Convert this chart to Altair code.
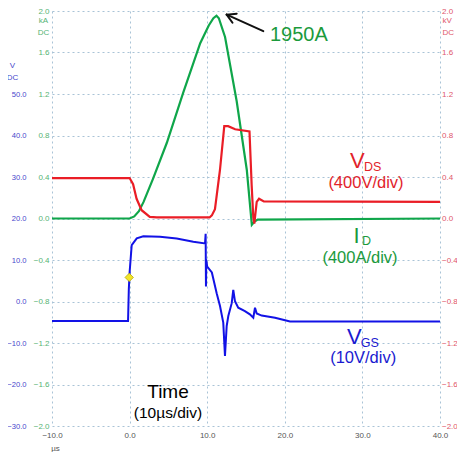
import altair as alt
import pandas as pd

# ---------------- data ----------------
green_t = [-10, 0.0, 0.6, 1.2, 1.8, 3.0, 4.8, 6.9, 9.1, 10.2, 10.8, 11.2, 11.5, 12.3, 13.8, 15.1, 15.75, 16.1, 16.5, 40]
green_kA = [0.0, 0.0, 0.02, 0.07, 0.16, 0.38, 0.73, 1.21, 1.69, 1.86, 1.93, 1.955, 1.93, 1.75, 1.13, 0.47, -0.06, -0.03, -0.01, 0.0]

red_t = [-10, 0.0, 0.45, 0.9, 1.55, 2.6, 3.5, 10.3, 10.6, 11.0, 11.65, 12.2, 12.7, 13.6, 15.45, 15.73, 15.94, 16.07, 16.38, 16.68, 17.3, 40]
red_kV = [0.39, 0.39, 0.33, 0.19, 0.08, 0.015, 0.01, 0.01, 0.03, 0.09, 0.47, 0.89, 0.89, 0.86, 0.84, 0.32, 0.01, -0.05, 0.16, 0.19, 0.165, 0.16]

blue_t = [-10, -0.2, -0.1, 0.0, 0.27, 0.92, 1.77, 3.92, 6.07, 8.21, 9.72, 9.8, 9.84, 9.88, 10.0, 10.6,
          11.22, 11.65, 12.07, 12.29, 12.51, 12.72, 13.16, 13.36, 13.58, 14.0, 14.86, 15.5, 15.94,
          16.16, 16.38, 17.02, 18.74, 20.67, 40]
blue_V = [-4.7, -4.7, 3.0, 7.0, 13.6, 15.2, 15.7, 15.6, 15.2, 14.4, 14.0, 16.3, 3.6, 10.0, 8.4, 7.0,
          2.0, -1.1, -5.1, -13.1, -5.9, -3.5, -0.4, 2.8, 0.05, -1.5, -2.3, -3.1, -3.9,
          -1.5, -2.9, -3.4, -3.9, -4.8, -4.8]

marker_t = [-0.05]
marker_V = [5.8]

x_ticks = [-10, 0, 10, 20, 30, 40]
k_ticks = [-2.0, -1.6, -1.2, -0.8, -0.4, 0.0, 0.4, 0.8, 1.2, 1.6, 2.0]
v_ticks = [-30, -20, -10, 0, 10, 20, 30, 40, 50]

# annotations
left_text = ["1950A", "V", "DS", "I", "D", "V", "GS"]
left_t = [18.09, 28.4, 30.2, 28.85, 29.95, 28.0, 29.8]
left_y = [1.77, 0.555, 0.493, -0.172, -0.215, -1.144, -1.196]
left_size = [20, 22, 12.5, 22, 12.5, 22, 12.5]
left_key = ["g", "r", "r", "g", "g", "b", "b"]

cen_text = ["(400V/div)", "(400A/div)", "(10V/div)", "Time", "(10µs/div)"]
cen_t = [30.46, 29.69, 30.1, 4.95, 4.95]
cen_y = [0.338, -0.38, -1.349, -1.672, -1.876]
cen_size = [16.5, 16.5, 16.5, 19, 15.5]
cen_key = ["r", "g", "b", "k", "k"]

arrow_t = [17.23, 12.51, 12.51]
arrow_y = [1.806, 1.965, 1.965]
arrow_t2 = [12.51, 13.80, 13.26]
arrow_y2 = [1.965, 1.974, 1.887]

# ---------------- styling ----------------
FONT = "Liberation Sans"
GREEN = "#0fa64a"
RED = "#ea1d26"
BLUE = "#1212e6"
GREEN_T = "#1b9a3c"
RED_T = "#e2232b"
BLUE_T = "#1a1ad0"
GRID = "#a9c3d6"
TXT = {"g": GREEN_T, "r": RED_T, "b": BLUE_T, "k": "#000000"}

green_df = pd.DataFrame({"t": green_t, "v": green_kA})
red_df = pd.DataFrame({"t": red_t, "v": red_kV})
blue_df = pd.DataFrame({"t": blue_t, "v": blue_V})
blue_df["i"] = range(len(blue_df))
marker_df = pd.DataFrame({"t": marker_t, "v": marker_V})
left_df = pd.DataFrame({"t": left_t, "v": left_y, "txt": left_text, "fs": left_size,
                        "col": [TXT[k] for k in left_key]})
cen_df = pd.DataFrame({"t": cen_t, "v": cen_y, "txt": cen_text, "fs": cen_size,
                       "col": [TXT[k] for k in cen_key]})
arrow_df = pd.DataFrame({"t": arrow_t, "v": arrow_y, "t2": arrow_t2, "v2": arrow_y2})

xscale = alt.Scale(domain=[-10, 40], nice=False, zero=False)
kscale = alt.Scale(domain=[-2, 2], nice=False, zero=False)
vscale = alt.Scale(domain=[-30, 70], nice=False, zero=False)

x_axis = alt.Axis(orient="bottom", values=x_ticks, format=".1f", grid=True, gridDash=[2, 3],
                  gridColor=GRID, gridOpacity=1, ticks=False, domain=False, labelPadding=5,
                  labelFlush=False, labelFontSize=8, labelColor="#555555", labelFont=FONT,
                  title="µs", titleFont=FONT, titleFontSize=8, titleFontWeight="normal",
                  titleColor="#555555", titleX=3, titleY=22, titleAlign="center",
                  titleBaseline="middle")

# identical x definition on every layer so the shared axis merges cleanly
x_main = alt.X("t:Q", scale=xscale, axis=x_axis)

green_axis = alt.Axis(orient="left", values=k_ticks, format=".1f", grid=True, gridDash=[2, 3],
                      gridColor=GRID, gridOpacity=1, ticks=False, domain=False, labelPadding=3,
                      labelFontSize=8, labelColor="#55b374", labelFont=FONT,
                      title=["kA", "DC"], titleAngle=0, titleFont=FONT, titleFontSize=8,
                      titleFontWeight="normal", titleColor="#55b374", titleX=-9, titleY=9,
                      titleAlign="center", titleBaseline="middle", titleLineHeight=12)

red_axis = alt.Axis(orient="right", values=k_ticks, format=".1f", grid=False, ticks=False,
                    domain=False, labelPadding=1.5, labelFontSize=8, labelColor="#e0566a",
                    labelFont=FONT, title=["kV", "DC"], titleAngle=0, titleFont=FONT,
                    titleFontSize=8, titleFontWeight="normal", titleColor="#e0566a", titleX=2,
                    titleY=9, titleAlign="left", titleBaseline="middle", titleLineHeight=12)

blue_axis = alt.Axis(orient="left", offset=26, values=v_ticks, format=".1f", grid=False,
                     ticks=False, domain=False, labelPadding=0, labelFontSize=7.6,
                     labelColor="#4646cc", labelFont=FONT, title=["V", "DC"], titleAngle=0,
                     titleFont=FONT, titleFontSize=8, titleFontWeight="normal",
                     titleColor="#4646cc", titleX=-14, titleY=54, titleAlign="center",
                     titleBaseline="middle", titleLineHeight=12)

green = alt.Chart(green_df).mark_line(color=GREEN, strokeWidth=2.2).encode(
    x=x_main, y=alt.Y("v:Q", scale=kscale, axis=green_axis))

red = alt.Chart(red_df).mark_line(color=RED, strokeWidth=2.2).encode(
    x=x_main, y=alt.Y("v:Q", scale=kscale, axis=red_axis))

blue_line = alt.Chart(blue_df).mark_line(color=BLUE, strokeWidth=2.0).encode(
    x=x_main, y=alt.Y("v:Q", scale=vscale, axis=blue_axis), order="i:Q")
blue_mark = alt.Chart(marker_df).mark_point(shape="diamond", filled=True, size=70,
                                            color="#f2e52a", stroke="#b8a800",
                                            strokeWidth=0.8, opacity=1).encode(
    x=x_main, y=alt.Y("v:Q", scale=vscale, axis=blue_axis))
blue = alt.layer(blue_line, blue_mark)

ann_y = alt.Y("v:Q", scale=kscale, axis=None)
arrow = alt.Chart(arrow_df).mark_rule(color="#111111", strokeWidth=2, strokeCap="round").encode(
    x=x_main, y=ann_y, x2="t2:Q", y2="v2:Q")
left_txt = alt.Chart(left_df).mark_text(align="left", baseline="middle", font=FONT).encode(
    x=x_main, y=ann_y, text="txt:N", size=alt.Size("fs:Q", scale=None),
    color=alt.Color("col:N", scale=None))
cen_txt = alt.Chart(cen_df).mark_text(align="center", baseline="middle", font=FONT).encode(
    x=x_main, y=ann_y, text="txt:N", size=alt.Size("fs:Q", scale=None),
    color=alt.Color("col:N", scale=None))
ann = alt.layer(arrow, left_txt, cen_txt)

chart = alt.layer(green, red, blue, ann).resolve_scale(y="independent").properties(
    width=388, height=415,
    autosize=alt.AutoSizeParams(type="none"),
    padding={"left": 44, "top": 3, "right": 17, "bottom": 28},
    background="white",
).configure_view(stroke=None)

chart.save("out.html", embed_options={"renderer": "svg", "actions": False})
